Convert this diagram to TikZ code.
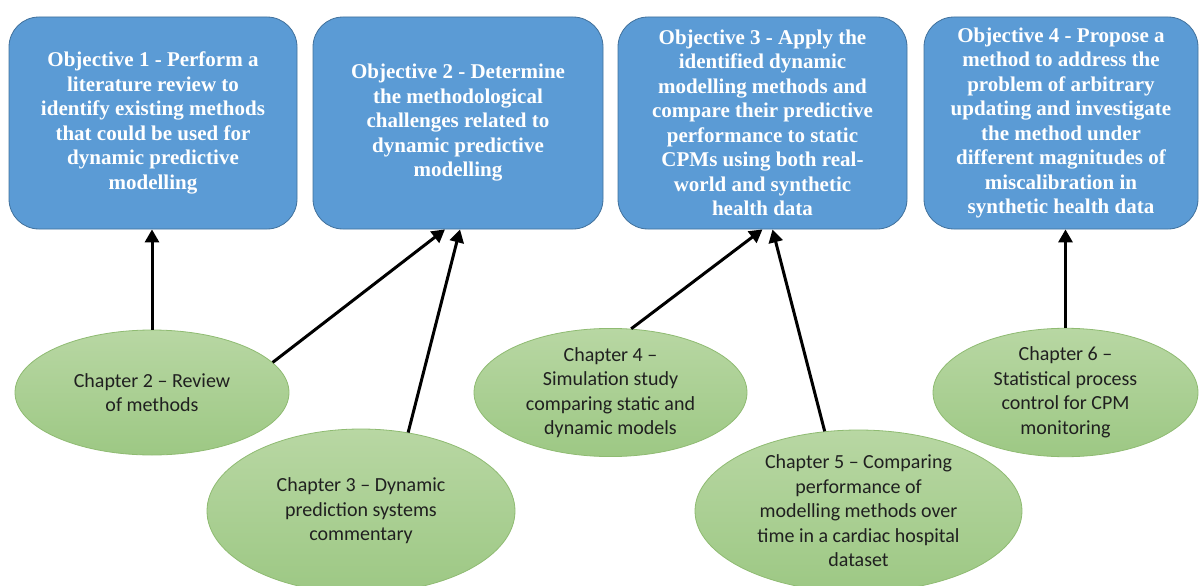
\documentclass[tikz,border=0pt]{standalone}
\usepackage{fontspec}
\setmainfont{Liberation Serif}
\newfontfamily\chapfont{Carlito}
\usetikzlibrary{arrows.meta,shapes.geometric,calc}
\definecolor{objfill}{HTML}{5B9BD5}
\definecolor{objline}{HTML}{41719C}
\definecolor{chaptop}{HTML}{B8D7A3}
\definecolor{chapbot}{HTML}{9DC884}
\definecolor{chapline}{HTML}{8FBB72}
\definecolor{chaptext}{HTML}{202020}
\tikzset{
  objbox/.style={rectangle, rounded corners=30pt, fill=objfill, draw=objline,
    line width=0.8pt, text=white, align=center, minimum height=212pt,
    font=\fontsize{21}{24.5}\selectfont\bfseries, inner sep=0pt},
  chapell/.style={ellipse, top color=chaptop, bottom color=chapbot, draw=chapline,
    line width=0.8pt, text=chaptext, align=center, inner sep=0pt,
    font=\chapfont\fontsize{20}{24.5}\selectfont},
  link/.style={line width=3pt, -{Triangle[length=13pt,width=14pt]}}
}
\begin{document}
\begin{tikzpicture}[x=1pt,y=-1pt]
\useasboundingbox (0,0) rectangle (1200,586);
% objectives
\node[objbox, minimum width=288pt] (b1) at (153,123)
  {Objective 1 - Perform a\\literature review to\\identify existing methods\\that could be used for\\dynamic predictive\\modelling};
\node[objbox, minimum width=290pt] (b2) at (458,123)
  {Objective 2 - Determine\\the methodological\\challenges related to\\dynamic predictive\\modelling};
\node[objbox, minimum width=289pt] (b3) at (762.5,123)
  {Objective 3 - Apply the\\identified dynamic\\modelling methods and\\compare their predictive\\performance to static\\CPMs using both real-\\world and synthetic\\health data};
\node[objbox, minimum width=274pt] (b4) at (1061,123)
  {Objective 4 - Propose a\\method to address the\\problem of arbitrary\\updating and investigate\\the method under\\different magnitudes of\\miscalibration in\\synthetic health data};
% chapters
\node[chapell, minimum width=274pt, minimum height=125pt] (e2) at (152,392.5)
  {Chapter 2 – Review\\of methods};
\node[chapell, minimum width=308pt, minimum height=164pt] (e3) at (361,511)
  {Chapter 3 – Dynamic\\prediction systems\\commentary};
\node[chapell, minimum width=273pt, minimum height=125pt] (e4) at (610.5,392.5)
  {Chapter 4 –\\Simulation study\\comparing static and\\dynamic models};
\node[chapell, minimum width=327pt, minimum height=162pt] (e5) at (858.5,511)
  {Chapter 5 – Comparing\\performance of\\modelling methods over\\time in a cardiac hospital\\dataset};
\node[chapell, minimum width=265pt, minimum height=125pt] (e6) at (1065.5,392.5)
  {Chapter 6 –\\Statistical process\\control for CPM\\monitoring};
% links from chapters to objectives
\draw[link] (e2.north) -- (e2.north |- b1.south);
\draw[link] (e2.14) -- ([xshift=-13pt]b2.south);
\draw[link] (e3.59) -- ([xshift=2pt]b2.south);
\draw[link] (e4.72) -- (b3.south);
\draw[link] (e5.113) -- ([xshift=10pt]b3.south);
\draw[link] (e6.north) -- (e6.north |- b4.south);
\end{tikzpicture}
\end{document}
